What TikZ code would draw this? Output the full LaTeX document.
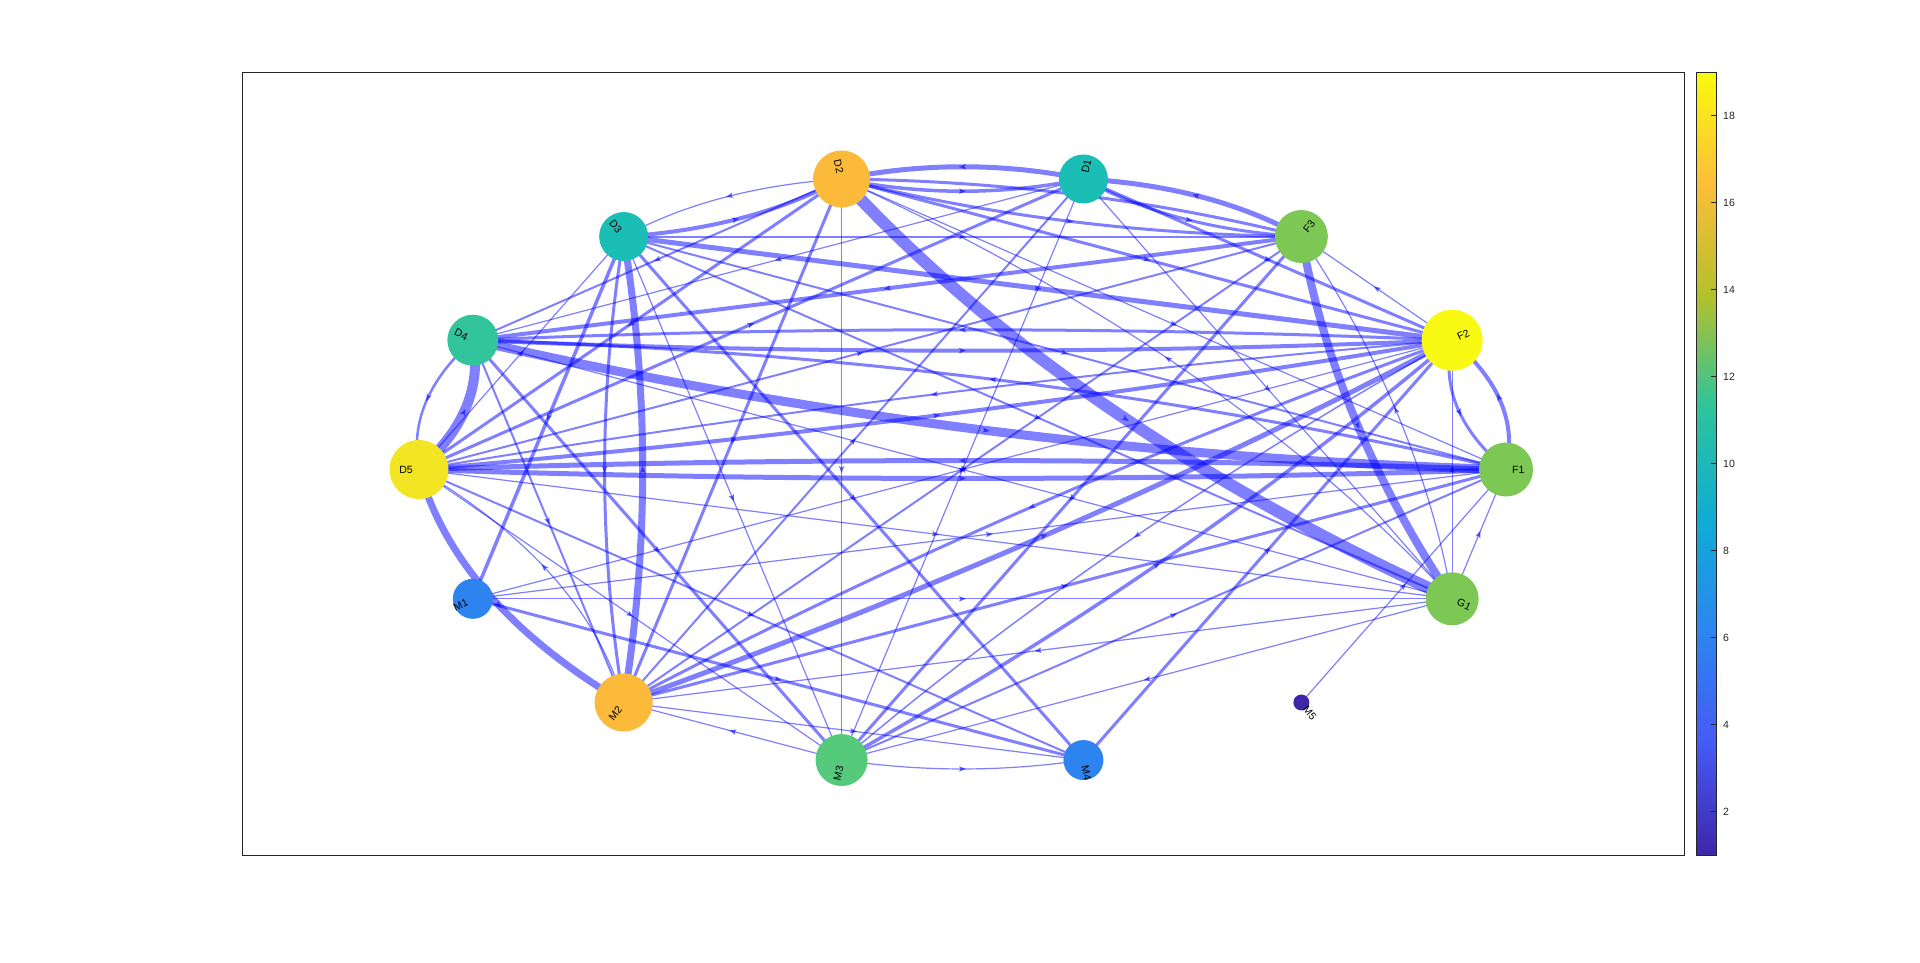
\documentclass[tikz,border=0pt]{standalone}
\usepackage{fontspec}
\setmainfont{Liberation Sans}
\usetikzlibrary{calc,decorations.markings}
\pgfdeclarelayer{bg}
\pgfsetlayers{bg,main}

\newcommand\setang[2]{\expandafter\def\csname ang#1\endcsname{#2}}
\setang{D2}{102.857}\setang{D3}{128.571}\setang{D4}{154.286}\setang{D5}{180}
\setang{M1}{205.714}\setang{M2}{231.429}\setang{M3}{257.143}\setang{M4}{282.857}
\setang{M5}{308.571}\setang{G1}{334.286}\setang{F1}{0}\setang{F2}{25.714}
\setang{F3}{51.429}\setang{D1}{77.143}

\definecolor{cOr}{RGB}{251,186,57}
\definecolor{cYa}{RGB}{241,229,36}
\definecolor{cYb}{RGB}{249,250,20}
\definecolor{cTe}{RGB}{26,190,180}
\definecolor{cD4}{RGB}{50,196,155}
\definecolor{cM3}{RGB}{84,202,122}
\definecolor{cLg}{RGB}{125,200,85}
\definecolor{cBl}{RGB}{45,132,240}
\definecolor{cPu}{RGB}{62,38,168}
\definecolor{cb0}{RGB}{62,38,168}
\definecolor{cb1}{RGB}{70,90,245}
\definecolor{cb2}{RGB}{45,133,240}
\definecolor{cb3}{RGB}{15,172,212}
\definecolor{cb4}{RGB}{45,196,155}
\definecolor{cb5}{RGB}{180,192,45}
\definecolor{cb6}{RGB}{252,190,58}
\definecolor{cb7}{RGB}{249,251,14}

\tikzset{
  lnk/.style={draw=blue, draw opacity=0.5, line cap=butt, postaction={decorate},
    decoration={markings, mark=at position 0.5 with {\fill[blue, fill opacity=0.6] (3.5pt,0) -- (-3.5pt,2.7pt) -- (-2pt,0) -- (-3.5pt,-2.7pt) -- cycle;}}},
  vtx/.style={circle, inner sep=0pt, outer sep=0pt, draw=none},
  lbl/.style={inner sep=0pt, font=\fontsize{10.5}{12}\selectfont},
  tck/.style={inner sep=0pt, anchor=west, font=\fontsize{10.5}{12}\selectfont, text=black!85},
  ax/.style={draw=black!85, line width=1pt},
}

% straight edge: from, to, width
\newcommand\Es[3]{\draw[lnk, line width=#3pt] (#1.center) -- (#2.center);}
% curved edge (bows to the right of travel): from, to, width, offset k (layout units)
\newcommand\Ec[4]{%
  \pgfmathsetmacro\eTa{\csname ang#1\endcsname}%
  \pgfmathsetmacro\eTb{\csname ang#2\endcsname}%
  \pgfmathsetmacro\eVx{cos(\eTb)-cos(\eTa)}%
  \pgfmathsetmacro\eVy{sin(\eTb)-sin(\eTa)}%
  \pgfmathsetmacro\eL{sqrt(\eVx*\eVx+\eVy*\eVy)}%
  \pgfmathsetmacro\eK{2*#4}%
  \pgfmathsetmacro\eCx{(cos(\eTa)+cos(\eTb))/2+\eK*\eVy/\eL}%
  \pgfmathsetmacro\eCy{(sin(\eTa)+sin(\eTb))/2-\eK*\eVx/\eL}%
  \draw[lnk, line width=#3pt] (#1.center) .. controls ($(#1.center)!0.6667!(\eCx,\eCy)$) and ($(#2.center)!0.6667!(\eCx,\eCy)$) .. (#2.center);}

\begin{document}
\begin{tikzpicture}[x=1pt,y=-1pt]
\useasboundingbox (0,0) rectangle (1920,962);
\draw[ax] (242,72) rectangle (1684,855);

% colorbar
\shade[bottom color=cb0, top color=cb1] (1696,855) rectangle (1716,743.14);
\shade[bottom color=cb1, top color=cb2] (1696,743.14) rectangle (1716,631.29);
\shade[bottom color=cb2, top color=cb3] (1696,631.29) rectangle (1716,519.43);
\shade[bottom color=cb3, top color=cb4] (1696,519.43) rectangle (1716,407.57);
\shade[bottom color=cb4, top color=cb5] (1696,407.57) rectangle (1716,295.71);
\shade[bottom color=cb5, top color=cb6] (1696,295.71) rectangle (1716,183.86);
\shade[bottom color=cb6, top color=cb7] (1696,183.86) rectangle (1716,72);
\draw[ax] (1696,72) rectangle (1716,855);
\foreach \v in {2,4,...,18} {
  \draw[ax, line width=0.8pt] (1716,{855-(\v-1)*43.5}) -- ++(-5,0);
  \node[tck] at (1723,{855-(\v-1)*43.5}) {\v};
}

\begin{scope}[shift={(962.5,469.5)}, x=543.5pt, y=298pt]
\node[vtx, minimum size=57pt, fill=cOr] (D2) at (102.857:1) {};
\node[vtx, minimum size=49pt, fill=cTe] (D3) at (128.571:1) {};
\node[vtx, minimum size=51pt, fill=cD4] (D4) at (154.286:1) {};
\node[vtx, minimum size=59pt, fill=cYa] (D5) at (180:1) {};
\node[vtx, minimum size=40pt, fill=cBl] (M1) at (205.714:1) {};
\node[vtx, minimum size=58pt, fill=cOr] (M2) at (231.429:1) {};
\node[vtx, minimum size=52pt, fill=cM3] (M3) at (257.143:1) {};
\node[vtx, minimum size=40pt, fill=cBl] (M4) at (282.857:1) {};
\node[vtx, minimum size=16pt, fill=cPu] (M5) at (308.571:1) {};
\node[vtx, minimum size=53pt, fill=cLg] (G1) at (334.286:1) {};
\node[vtx, minimum size=54pt, fill=cLg] (F1) at (0:1) {};
\node[vtx, minimum size=61pt, fill=cYb] (F2) at (25.714:1) {};
\node[vtx, minimum size=53pt, fill=cLg] (F3) at (51.429:1) {};
\node[vtx, minimum size=49pt, fill=cTe] (D1) at (77.143:1) {};

\node[lbl, rotate=-77.143, anchor=east] at ($(D2.center)+(102.857:6pt)$) {D2};
\node[lbl, rotate=-51.429, anchor=east] at ($(D3.center)+(128.571:6pt)$) {D3};
\node[lbl, rotate=-25.714, anchor=east] at ($(D4.center)+(154.286:6pt)$) {D4};
\node[lbl, anchor=east] at ($(D5.center)+(180:6pt)$) {D5};
\node[lbl, rotate=25.714, anchor=east] at ($(M1.center)+(205.714:6pt)$) {M1};
\node[lbl, rotate=51.429, anchor=east] at ($(M2.center)+(231.429:6pt)$) {M2};
\node[lbl, rotate=77.143, anchor=east] at ($(M3.center)+(257.143:6pt)$) {M3};
\node[lbl, rotate=-77.143, anchor=west] at ($(M4.center)+(282.857:6pt)$) {M4};
\node[lbl, rotate=-51.429, anchor=west] at ($(M5.center)+(308.571:6pt)$) {M5};
\node[lbl, rotate=-25.714, anchor=west] at ($(G1.center)+(334.286:6pt)$) {G1};
\node[lbl, anchor=west] at ($(F1.center)+(0:6pt)$) {F1};
\node[lbl, rotate=25.714, anchor=west] at ($(F2.center)+(25.714:6pt)$) {F2};
\node[lbl, rotate=51.429, anchor=west] at ($(F3.center)+(51.429:6pt)$) {F3};
\node[lbl, rotate=77.143, anchor=west] at ($(D1.center)+(77.143:6pt)$) {D1};

\begin{pgfonlayer}{bg}
% reciprocal pairs (curved)
\Ec{D2}{D3}{1.2}{0.038} \Ec{D3}{D2}{4}{0.038}
\Ec{D1}{D2}{5}{0.041} \Ec{D2}{D1}{3.5}{0.041}
\Ec{F3}{D1}{5}{0.04} \Ec{D1}{F3}{3}{0.04}
\Ec{D4}{D5}{2.5}{0.038} \Ec{D5}{D4}{10}{0.038}
\Ec{D5}{M2}{7}{0.066} \Ec{M2}{D5}{1.2}{0.066}
\Ec{D2}{G1}{12}{0.094} \Ec{G1}{D2}{1.2}{0.094}
\Ec{F3}{G1}{8}{0.04} \Ec{G1}{F3}{1.2}{0.04}
\Ec{F2}{F1}{3}{0.041} \Ec{F1}{F2}{4}{0.041}
\Ec{D3}{M2}{3}{0.035} \Ec{M2}{D3}{7}{0.035}
\Ec{D4}{F1}{9}{0.085} \Ec{F1}{D4}{3}{0.085}
\Ec{D5}{F1}{5}{0.03} \Ec{F1}{D5}{5}{0.03}
\Ec{M2}{F2}{5}{0.045} \Ec{F2}{M2}{3}{0.045}
\Ec{D2}{F3}{3}{0.045} \Ec{F3}{D2}{3}{0.045}
\Ec{D4}{F2}{4}{0.035} \Ec{F2}{D4}{3}{0.035}
\Ec{D5}{F2}{4}{0.035} \Ec{F2}{D5}{2}{0.035}
\Ec{M3}{F2}{3.5}{0.045} \Ec{F2}{M3}{1.5}{0.045}
\Ec{M3}{M4}{1.2}{0.03}
% single edges
\Es{D3}{M1}{3.5}
\Es{D3}{F2}{5}
\Es{F3}{D4}{4}
\Es{D5}{D3}{1.2}
\Es{D5}{D1}{3}
\Es{D5}{F3}{2}
\Es{D5}{G1}{1.2}
\Es{D5}{M4}{2}
\Es{D5}{M3}{1.2}
\Es{M1}{G1}{1.2}
\Es{M1}{F1}{1.2}
\Es{M1}{M4}{3}
\Es{M1}{F2}{1.2}
\Es{M4}{F2}{3}
\Es{D3}{M4}{3}
\Es{D3}{M3}{1.2}
\Es{M3}{M2}{1.2}
\Es{M2}{M4}{1.2}
\Es{M5}{F1}{1.2}
\Es{F2}{F3}{1.2}
\Es{G1}{F1}{1.2}
\Es{G1}{F2}{1.2}
\Es{D1}{F2}{3}
\Es{D2}{F2}{3}
\Es{M2}{F1}{3}
\Es{M2}{D1}{2}
\Es{D2}{M3}{1.2}
\Es{D2}{M2}{3}
\Es{D2}{D5}{3}
\Es{D2}{D4}{2}
\Es{D1}{M3}{1.2}
\Es{D1}{G1}{1.2}
\Es{D1}{D4}{1.2}
\Es{F3}{M3}{3}
\Es{F3}{M2}{2}
\Es{D3}{F3}{2}
\Es{G1}{M2}{1.2}
\Es{G1}{M3}{1.2}
\Es{G1}{D4}{1.2}
\Es{D3}{G1}{2}
\Es{D3}{F1}{2}
\Es{M3}{F1}{2}
\Es{D4}{M3}{3}
\Es{D4}{M2}{2}
\Es{D2}{F1}{1.2}
\end{pgfonlayer}
\end{scope}
\end{tikzpicture}
\end{document}
